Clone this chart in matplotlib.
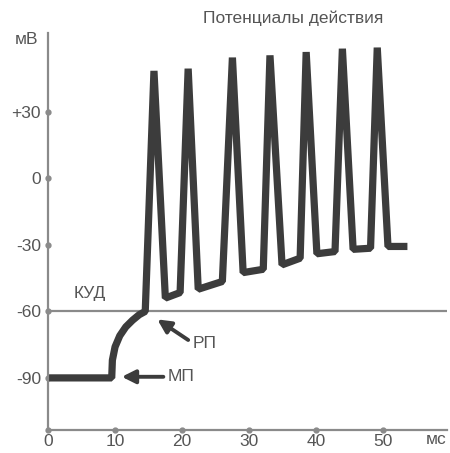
import matplotlib
matplotlib.use('Agg')
import matplotlib.pyplot as plt

plt.rcParams['font.family'] = ['Liberation Sans', 'DejaVu Sans']

# trace of membrane potential (ms, mV)
time_ms = [0, 9.5, 9.6, 10.0, 10.7, 11.6, 12.6, 13.6, 14.5,
           15.8, 17.5, 19.7, 20.9, 22.4, 26.0, 27.5, 29.1, 32.1,
           33.1, 34.9, 37.6, 38.5, 40.1, 42.8, 43.9, 45.5, 48.1,
           49.1, 50.7, 53.6]
volts = [-90, -90, -82, -76, -71, -67, -64, -61.5, -60,
         48.5, -54, -51.5, 49.5, -50, -46.5, 54.5, -42.5, -41,
         55.5, -39, -36, 57, -34, -33, 58.5, -32, -31.5,
         59, -30.7, -30.7]

threshold = -60  # КУД
yticks = [30, 0, -30, -60, -90]
ytick_labels = ['+30', '0', '-30', '-60', '-90']
xticks = [0, 10, 20, 30, 40, 50]

axis_col = '#8a8a8a'
text_col = '#555555'
trace_col = '#3c3c3c'
fs = 12.5

fig = plt.figure(figsize=(4.5, 4.53), dpi=100)
ax = fig.add_axes([0.1067, 0.0508, 0.8866, 0.8764])
ax.set_xlim(0, 59.5)
ax.set_ylim(-113.5, 65.6)

for s in ['top', 'right']:
    ax.spines[s].set_visible(False)
for s in ['left', 'bottom']:
    ax.spines[s].set_color(axis_col)
    ax.spines[s].set_linewidth(1.6)

ax.set_xticks(xticks)
ax.set_yticks(yticks)
ax.set_yticklabels(ytick_labels)
ax.tick_params(length=0, colors=text_col, labelsize=fs)
ax.tick_params(axis='y', pad=5)
ax.tick_params(axis='x', pad=3)

# tick dots on the axes
ax.plot([0] * len(yticks), yticks, 'o', ms=3.5, color=axis_col, clip_on=False)
ax.plot(xticks, [-113.5] * len(xticks), 'o', ms=3.5, color=axis_col, clip_on=False)

# threshold line
ax.axhline(threshold, color=axis_col, lw=1.6)
ax.text(6.2, -52, 'КУД', ha='center', va='center', fontsize=fs, color=text_col)

ax.plot(time_ms, volts, color=trace_col, lw=5.2, solid_joinstyle='bevel',
        solid_capstyle='butt')

# arrows
ax.annotate('', xy=(16.3, -63.6), xytext=(20.9, -72.9),
            arrowprops=dict(arrowstyle='-|>', color=trace_col, lw=2.8,
                            mutation_scale=20, shrinkA=0, shrinkB=0))
ax.text(21.6, -74.5, 'РП', ha='left', va='center', fontsize=fs, color=text_col)
ax.annotate('', xy=(11.0, -89.5), xytext=(17.2, -89.5),
            arrowprops=dict(arrowstyle='-|>', color=trace_col, lw=2.8,
                            mutation_scale=20, shrinkA=0, shrinkB=0))
ax.text(17.8, -89.5, 'МП', ha='left', va='center', fontsize=fs, color=text_col)

# units and title
fig.text(27 / 450, 1 - 40 / 453, 'мВ', ha='center', va='center', fontsize=fs, color=text_col)
fig.text(436 / 450, 1 - 440 / 453, 'мс', ha='center', va='center', fontsize=fs, color=text_col)
fig.text(293 / 450, 1 - 18 / 453, 'Потенциалы действия', ha='center', va='center',
         fontsize=fs, color=text_col)

fig.savefig('out.png', dpi=100)
